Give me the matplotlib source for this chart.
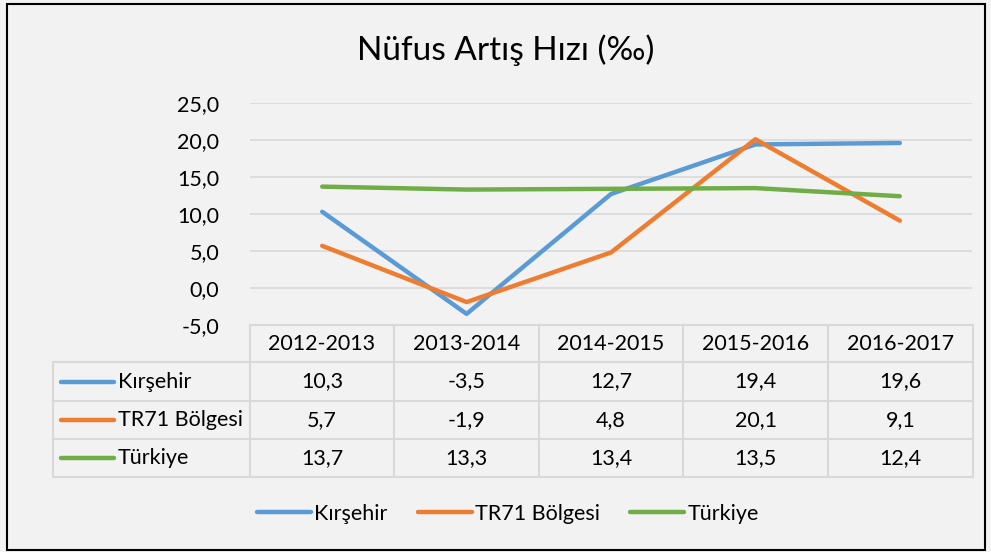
import matplotlib.pyplot as plt
from matplotlib.lines import Line2D
from matplotlib.patches import Rectangle

plt.rcParams['font.family'] = ['Lato', 'DejaVu Sans']

# veri
periods = ['2012-2013', '2013-2014', '2014-2015', '2015-2016', '2016-2017']
series_names = ['Kırşehir', 'TR71 Bölgesi', 'Türkiye']
kirsehir = [10.3, -3.5, 12.7, 19.4, 19.6]
tr71 = [5.7, -1.9, 4.8, 20.1, 9.1]
turkiye = [13.7, 13.3, 13.4, 13.5, 12.4]
colors = ['#5b9bd5', '#ed7d31', '#70ad47']
yticks = [-5, 0, 5, 10, 15, 20, 25]

W, H = 991, 552
fig = plt.figure(figsize=(W / 100, H / 100), dpi=100)
fig.patch.set_facecolor('#f2f2f2')


def fx(px):
    return px / W


def fy(py):
    return 1 - py / H


# çerçeve
fig.add_artist(Rectangle((fx(7), fy(550)), fx(978), 546 / H, transform=fig.transFigure,
                         fill=False, edgecolor='black', linewidth=1.5))

left, right, top, bottom = 250, 972, 103, 325
ax = fig.add_axes([fx(left), fy(bottom), fx(right - left), (bottom - top) / H])
ax.set_facecolor('#f2f2f2')

all_series = [kirsehir, tr71, turkiye]
x = list(range(len(periods)))
for vals, c in zip(all_series, colors):
    ax.plot(x, vals, color=c, linewidth=3.2, solid_capstyle='round', zorder=3)

ax.set_xlim(-0.5, len(periods) - 0.5)
ax.set_ylim(-5, 25)
ax.set_yticks(yticks)
ax.set_yticklabels([f'{v:.1f}'.replace('.', ',') for v in yticks], fontsize=15.5)
ax.tick_params(axis='y', length=0, pad=22)
ax.tick_params(axis='x', bottom=False, labelbottom=False)
ax.grid(axis='y', color='#d9d9d9', linewidth=1.2)
for s in ax.spines.values():
    s.set_visible(False)

fig.text(fx(506), fy(50), 'Nüfus Artış Hızı (‰)', ha='center', va='center', fontsize=24)

# veri tablosu
col_edges = [250, 394, 539, 683, 828, 973]
row_edges = [325, 362, 401, 439, 477]
grid_c = '#d9d9d9'
lw = 1.5
tab_left = 53
for i, yy in enumerate(row_edges):
    x0 = col_edges[0] if i == 0 else tab_left
    fig.add_artist(Line2D([fx(x0), fx(col_edges[-1])], [fy(yy), fy(yy)],
                          transform=fig.transFigure, color=grid_c, linewidth=lw))
for xx in col_edges:
    fig.add_artist(Line2D([fx(xx), fx(xx)], [fy(row_edges[0]), fy(row_edges[-1])],
                          transform=fig.transFigure, color=grid_c, linewidth=lw))
fig.add_artist(Line2D([fx(tab_left), fx(tab_left)], [fy(row_edges[1]), fy(row_edges[-1])],
                      transform=fig.transFigure, color=grid_c, linewidth=lw))

for j, p in enumerate(periods):
    cx = (col_edges[j] + col_edges[j + 1]) / 2
    fig.text(fx(cx), fy((row_edges[0] + row_edges[1]) / 2), p,
             ha='center', va='center', fontsize=15.5)
for i, (name, vals, c) in enumerate(zip(series_names, all_series, colors)):
    cy = (row_edges[i + 1] + row_edges[i + 2]) / 2
    fig.add_artist(Line2D([fx(61), fx(114)], [fy(cy), fy(cy)], transform=fig.transFigure,
                          color=c, linewidth=3.2, solid_capstyle='round'))
    fig.text(fx(118), fy(cy), name, ha='left', va='center', fontsize=15.5)
    for j, v in enumerate(vals):
        cx = (col_edges[j] + col_edges[j + 1]) / 2
        fig.text(fx(cx), fy(cy), f'{v:.1f}'.replace('.', ','),
                 ha='center', va='center', fontsize=15.5)

# alt açıklama
handles = [Line2D([], [], color=c, linewidth=3.2, solid_capstyle='round') for c in colors]
fig.legend(handles, series_names, loc='center', bbox_to_anchor=(fx(508), fy(514)),
           ncol=3, frameon=False, fontsize=15.5, handlelength=2.5, handletextpad=0.15,
           columnspacing=1.4)

fig.savefig('out.png', dpi=100, facecolor=fig.get_facecolor())
